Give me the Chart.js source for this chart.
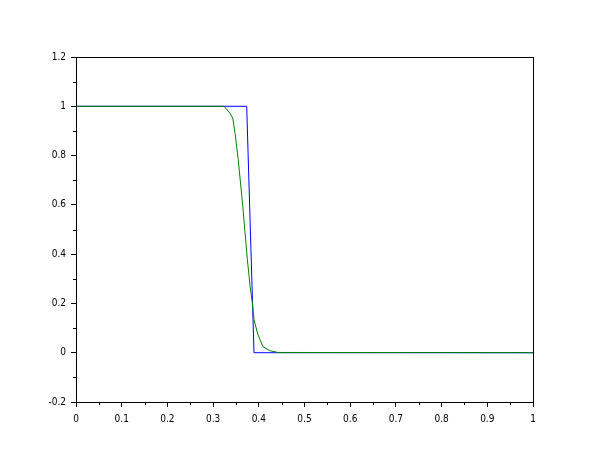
<!DOCTYPE html>
<html>
<head>
<meta charset="utf-8">
<script src="https://cdn.jsdelivr.net/npm/chart.js@4/dist/chart.umd.min.js"></script>
<style>
  html, body { margin: 0; padding: 0; background: #fff; }
  #wrap { width: 610px; height: 460px; }
</style>
</head>
<body>
<div id="wrap"><canvas id="plot" width="610" height="460"></canvas></div>
<script>
// exact step (blue)
var blueX = [0, 0.3735, 0.3895, 1];
var blueY = [1, 1, 0, 0];
// numerical solution (green)
var greenX = [0, 0.324, 0.337, 0.343, 0.348, 0.355, 0.360, 0.365, 0.370, 0.375, 0.381, 0.386, 0.3895, 0.397, 0.401, 0.409, 0.424, 0.442, 1];
var greenY = [1, 1, 0.972, 0.952, 0.891, 0.783, 0.688, 0.593, 0.485, 0.377, 0.269, 0.201, 0.134, 0.080, 0.060, 0.025, 0.008, 0.001, 0];
// axis ticks
var xMajor = [0, 0.1, 0.2, 0.3, 0.4, 0.5, 0.6, 0.7, 0.8, 0.9, 1];
var xMinor = [0.05, 0.15, 0.25, 0.35, 0.45, 0.55, 0.65, 0.75, 0.85, 0.95];
var yMajor = [-0.2, 0, 0.2, 0.4, 0.6, 0.8, 1, 1.2];
var yMinor = [-0.1, 0.1, 0.3, 0.5, 0.7, 0.9, 1.1];

var toPoints = function (xs, ys) {
    var pts = [];
    for (var i = 0; i < xs.length; i++) { pts.push({x: xs[i], y: ys[i]}); }
    return pts;
};

var fmt = function (v) {
    var r = Math.round(v * 10) / 10;
    return String(r);
};

var labelFont = { family: "'Liberation Sans Narrow', 'DejaVu Sans Condensed', sans-serif", size: 10 };

// frame box and short minor ticks
var framePlugin = {
    id: "frame",
    afterDraw: function (chart) {
        var ctx = chart.ctx, a = chart.chartArea;
        var xs = chart.scales.x, ys = chart.scales.y;
        ctx.save();
        ctx.strokeStyle = "#000";
        ctx.lineWidth = 1;
        ctx.strokeRect(Math.round(a.left) + 0.5, Math.round(a.top) + 0.5,
                       Math.round(a.right - a.left), Math.round(a.bottom - a.top));
        ctx.beginPath();
        xMinor.forEach(function (v) {
            var px = Math.round(xs.getPixelForValue(v)) + 0.5;
            ctx.moveTo(px, Math.round(a.bottom));
            ctx.lineTo(px, Math.round(a.bottom) + 3);
        });
        yMinor.forEach(function (v) {
            var py = Math.round(ys.getPixelForValue(v)) + 0.5;
            ctx.moveTo(Math.round(a.left), py);
            ctx.lineTo(Math.round(a.left) - 3, py);
        });
        ctx.stroke();
        ctx.restore();
    }
};

var chart = new Chart("plot", {
    type: "scatter",
    data: {
        datasets: [
            { data: toPoints(blueX, blueY), borderColor: "#0000ff", borderWidth: 1, order: 2,
              showLine: true, pointRadius: 0, tension: 0, fill: false },
            { data: toPoints(greenX, greenY), borderColor: "#008000", borderWidth: 1, order: 1,
              showLine: true, pointRadius: 0, tension: 0, fill: false }
        ]
    },
    options: {
        responsive: false,
        animation: false,
        layout: { padding: { top: 57, right: 77, left: 0, bottom: 0 } },
        plugins: { legend: { display: false }, tooltip: { enabled: false } },
        scales: {
            x: {
                type: "linear", min: 0, max: 1,
                afterFit: function (s) { s.height = 58; },
                afterBuildTicks: function (s) { s.ticks = xMajor.map(function (v) { return {value: v}; }); },
                grid: { drawOnChartArea: false, drawTicks: true, tickLength: 5, color: "#000", tickColor: "#000" },
                border: { display: true, color: "#000", width: 1 },
                ticks: { padding: 6, color: "#000", maxRotation: 0, autoSkip: false,
                         font: labelFont, callback: fmt }
            },
            y: {
                type: "linear", min: -0.2, max: 1.2,
                afterFit: function (s) { s.width = 76; },
                afterBuildTicks: function (s) { s.ticks = yMajor.map(function (v) { return {value: v}; }); },
                grid: { drawOnChartArea: false, drawTicks: true, tickLength: 5, color: "#000", tickColor: "#000" },
                border: { display: true, color: "#000", width: 1 },
                ticks: { padding: 5, color: "#000", autoSkip: false,
                         font: labelFont, callback: fmt }
            }
        }
    },
    plugins: [framePlugin]
});
</script>
</body>
</html>
